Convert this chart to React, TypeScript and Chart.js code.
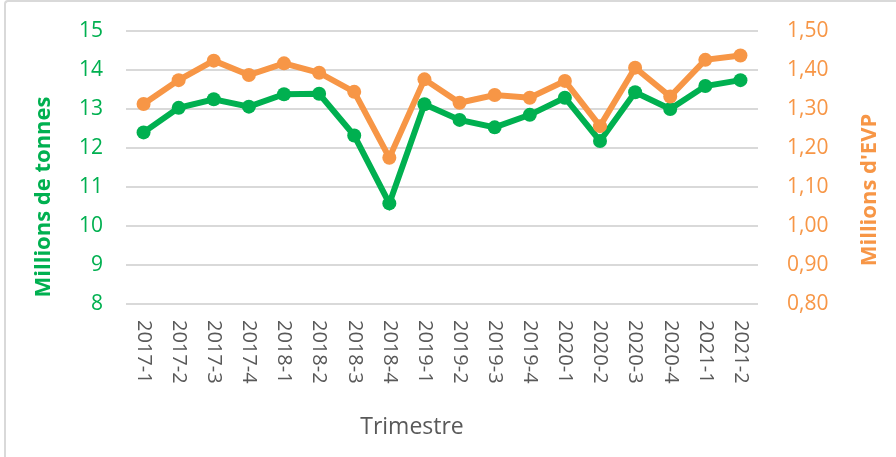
import React, { useEffect, useRef } from "react";
import { Chart, registerables } from "chart.js";

Chart.register(...registerables);

const categories = [
  "2017-1", "2017-2", "2017-3", "2017-4",
  "2018-1", "2018-2", "2018-3", "2018-4",
  "2019-1", "2019-2", "2019-3", "2019-4",
  "2020-1", "2020-2", "2020-3", "2020-4",
  "2021-1", "2021-2",
];

const tonnes = [
  12.4, 13.03, 13.25, 13.06, 13.38, 13.39, 12.32, 10.58,
  13.12, 12.72, 12.53, 12.85, 13.29, 12.18, 13.43, 13.0,
  13.59, 13.74,
];

const evp = [
  1.313, 1.374, 1.424, 1.387, 1.417, 1.393, 1.344, 1.175,
  1.376, 1.316, 1.336, 1.329, 1.372, 1.256, 1.406, 1.332,
  1.426, 1.437,
];

const leftTitle = "Millions de tonnes";
const rightTitle = "Millions d'EVP";
const xTitle = "Trimestre";

const GREEN = "#00B050";
const ORANGE = "#F79646";
const GREY = "#595959";
const GRID = "#D9D9D9";
const FONT = "'Open Sans', sans-serif";

const labelsPlugin = {
  id: "customLabels",
  afterDraw(chart: any) {
    const ctx = chart.ctx;
    const xs = chart.scales.x;
    const area = chart.chartArea;
    ctx.save();
    ctx.font = `20px ${FONT}`;
    ctx.fillStyle = GREY;
    ctx.textAlign = "left";
    ctx.textBaseline = "middle";
    categories.forEach((c, i) => {
      const x = xs.getPixelForTick(i);
      ctx.save();
      ctx.translate(x, area.bottom + 16);
      ctx.rotate(Math.PI / 2);
      ctx.fillText(c, 0, 0);
      ctx.restore();
    });
    ctx.font = `23px ${FONT}`;
    ctx.textAlign = "center";
    ctx.fillText(xTitle, 412, 427);
    ctx.font = `bold 22px ${FONT}`;
    ctx.fillStyle = GREEN;
    ctx.save();
    ctx.translate(44, 197);
    ctx.rotate(-Math.PI / 2);
    ctx.fillText(leftTitle, 0, 0);
    ctx.restore();
    ctx.fillStyle = ORANGE;
    ctx.save();
    ctx.translate(870, 190);
    ctx.rotate(-Math.PI / 2);
    ctx.fillText(rightTitle, 0, 0);
    ctx.restore();
    ctx.restore();
  },
};

export default function App() {
  const ref = useRef<HTMLCanvasElement | null>(null);
  useEffect(() => {
    if (!ref.current) return;
    const chart = new Chart(ref.current, {
      type: "line",
      data: {
        labels: categories,
        datasets: [
          {
            label: leftTitle,
            data: tonnes,
            yAxisID: "y",
            borderColor: GREEN,
            backgroundColor: GREEN,
            borderWidth: 6,
            pointRadius: 7,
            pointBorderWidth: 0,
            tension: 0,
            order: 1,
          },
          {
            label: rightTitle,
            data: evp,
            yAxisID: "y1",
            borderColor: ORANGE,
            backgroundColor: ORANGE,
            borderWidth: 6,
            pointRadius: 7,
            pointBorderWidth: 0,
            tension: 0,
            order: 0,
          },
        ],
      },
      options: {
        animation: false,
        responsive: true,
        maintainAspectRatio: false,
        layout: { padding: { top: 31, left: 0, right: 0, bottom: 0 } },
        plugins: { legend: { display: false }, tooltip: { enabled: false } },
        scales: {
          x: {
            offset: true,
            grid: { display: false },
            border: { display: false },
            ticks: { display: false },
            afterFit: (s: any) => { s.height = 153; },
          },
          y: {
            position: "left",
            min: 8,
            max: 15,
            grid: { color: GRID, lineWidth: 2, drawTicks: false },
            border: { display: false },
            ticks: {
              stepSize: 1,
              padding: 23,
              color: GREEN,
              font: { family: FONT, size: 21 },
            },
            afterFit: (s: any) => { s.width = 126; s.paddingTop = 0; s.paddingBottom = 0; },
          },
          y1: {
            position: "right",
            min: 0.8,
            max: 1.5,
            grid: { drawOnChartArea: false, drawTicks: false },
            border: { display: false },
            ticks: {
              stepSize: 0.1,
              padding: 29,
              color: ORANGE,
              font: { family: FONT, size: 21 },
              callback: (v: any) => Number(v).toFixed(2).replace(".", ","),
            },
            afterFit: (s: any) => { s.width = 138; s.paddingTop = 0; s.paddingBottom = 0; },
          },
        },
      },
      plugins: [labelsPlugin],
    });
    return () => chart.destroy();
  }, []);

  return (
    <div style={{ position: "fixed", left: 0, top: 0, width: 896, height: 457, background: "#fff", overflow: "hidden" }}>
      <div style={{ position: "absolute", left: 4, top: 0, width: 1000, height: 1000, borderLeft: "2px solid #D9D9D9", borderTop: "2px solid #D9D9D9", borderRadius: 4 }} />
      <canvas ref={ref} style={{ position: "absolute", left: 0, top: 0, width: 896, height: 457 }} />
    </div>
  );
}
